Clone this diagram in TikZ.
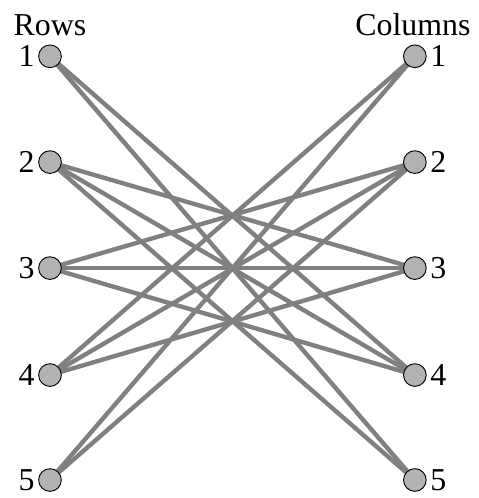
\documentclass[tikz,border=0pt]{standalone}
\usepackage{fontspec}
\setmainfont{Liberation Serif}
\usetikzlibrary{backgrounds}

\begin{document}
\begin{tikzpicture}[
    vertex/.style={circle, draw=black, line width=0.7pt, fill=black!30, minimum size=0.6cm, inner sep=0pt},
    link/.style={gray, line width=3.3pt},
    font=\fontsize{24}{28}\selectfont]
    \useasboundingbox (0,0) rectangle (12.67,13.18);
    % rows on the left, columns on the right
    \foreach \i/\y in {1/11.69, 2/8.89, 3/6.085, 4/3.254, 5/0.476} {
        \node[vertex, label={[inner sep=2.5pt]left:\i}] (r\i) at (1.323,\y) {};
        \node[vertex, label={[inner sep=2.5pt]right:\i}] (c\i) at (10.98,\y) {};
    }
    \node[anchor=base] (rows) at (1.323,12.25) {Rows};
    \node[anchor=base] (cols) at (10.93,12.25) {Columns};
    \begin{scope}[on background layer]
        \foreach \i/\j in {1/4,1/5,2/3,2/4,2/5,3/2,3/3,3/4,4/1,4/2,4/3,5/1,5/2}
            \draw[link] (r\i.center) -- (c\j.center);
    \end{scope}
\end{tikzpicture}
\end{document}
